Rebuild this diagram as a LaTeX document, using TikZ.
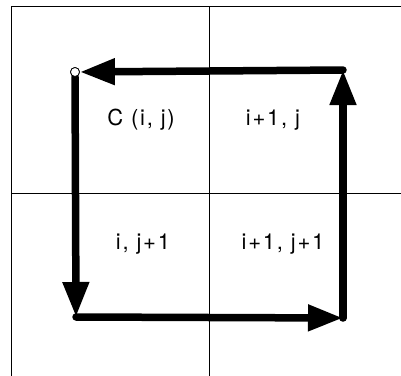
\documentclass[tikz,border=0pt]{standalone}
\usepackage{fontspec}
\setmainfont{TeX Gyre Heros}[LetterSpace=8]
\usetikzlibrary{arrows.meta,positioning}
\definecolor{ink}{HTML}{000000}
\tikzset{
  grid/.style={draw=ink,line width=1bp},
  loop/.style={-{Triangle[length=35bp,width=25bp]},line width=7.5bp,draw=ink,line cap=round},
  cell/.style={font=\fontsize{22bp}{26bp}\selectfont,text=ink,inner sep=0pt},
  start/.style={circle,draw=ink,fill=white,line width=0.8bp,minimum size=9bp,inner sep=0pt},
}
\begin{document}
\begin{tikzpicture}[x=1bp,y=-1bp]
  \useasboundingbox (0,0) rectangle (401,376);
  % frame and cell grid
  \draw[grid] (11,376) -- (11,6) -- (401,6);
  \draw[grid] (209,6) -- (209,376);
  \draw[grid] (11,193) -- (401,193);
  % corners of the loop
  \coordinate (tr) at (343,70);
  \coordinate (br) at (343,318);
  \coordinate (bl) at (76,317);
  \node[start] (c) at (75,72) {};
  % cell labels
  \node[cell] (cij) at (141,120) {C (i, j)};
  \node[cell] (ci1j) at (273,120) {i+1, j};
  \node[cell] (cij1) at (143,244) {i, j+1};
  \node[cell] (ci1j1) at (283,244) {i+1, j+1};
  % path round the cells
  \draw[loop] (tr) -- (c);
  \draw[loop] (c) -- (bl);
  \draw[loop] (bl) -- (br);
  \draw[loop] (br) -- (tr);
  \node[start] at (c) {};
\end{tikzpicture}
\end{document}
